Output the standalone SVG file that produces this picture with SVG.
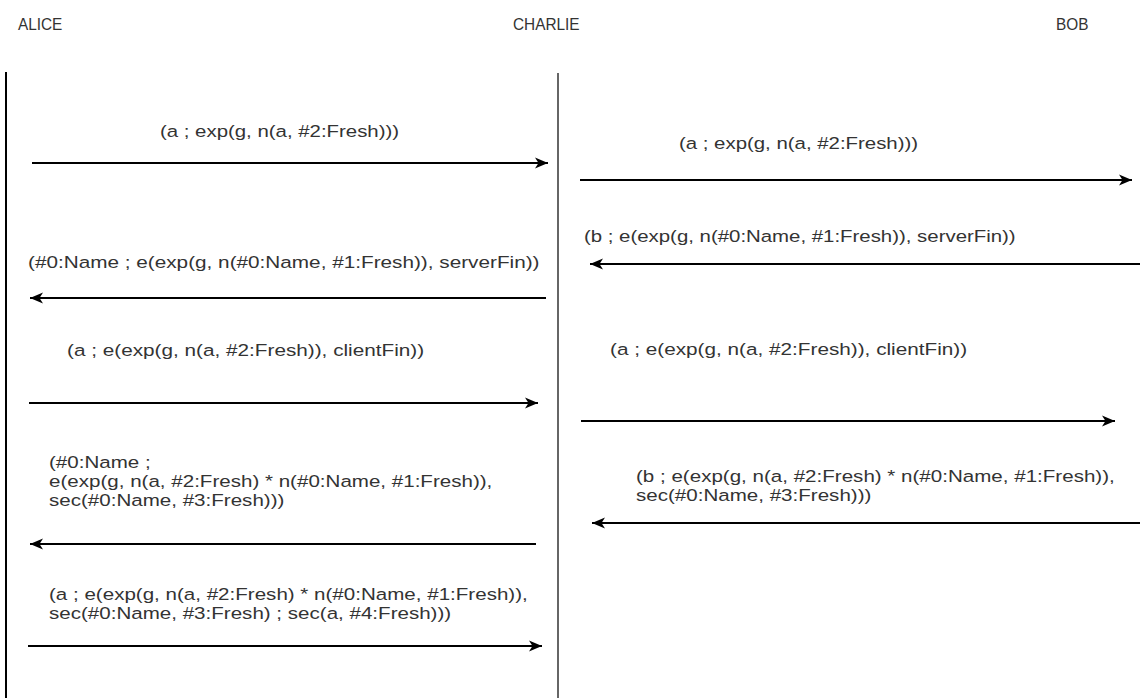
<svg xmlns="http://www.w3.org/2000/svg" width="1140" height="698" viewBox="0 0 1140 698">
  <style>
    text { font-family: "Liberation Sans", Arial, Helvetica, sans-serif; font-size: 17px; fill: #333333; }
    text.head { font-size: 16px; }
    .life-a { stroke: #000000; stroke-width: 2; }
    .life-c { stroke: #666666; stroke-width: 2; }
    .msg { stroke: #000000; stroke-width: 2; fill: none; marker-end: url(#arrow); }
  </style>
  <defs>
    <marker id="arrow" markerUnits="userSpaceOnUse" markerWidth="15" markerHeight="13" refX="13" refY="6" orient="auto">
      <path d="M0,0.5 L13,6 L0,11.5 L3.5,6 Z" fill="#000000"/>
    </marker>
  </defs>
  <rect width="1140" height="698" fill="#ffffff"/>

  <!-- participants -->
  <g id="alice">
    <text class="head" transform="translate(18,30) scale(0.96,1)">ALICE</text>
    <line class="life-a" x1="6" y1="72" x2="6" y2="698"/>
  </g>
  <g id="charlie">
    <text class="head" transform="translate(513,30) scale(0.96,1)">CHARLIE</text>
    <line class="life-c" x1="558" y1="73" x2="558" y2="698"/>
  </g>
  <g id="bob">
    <text class="head" transform="translate(1056,30) scale(0.96,1)">BOB</text>
  </g>

  <!-- message labels -->
  <g id="labels">
    <text transform="translate(160,137) scale(1.2,1)">(a ; exp(g, n(a, #2:Fresh)))</text>
    <text transform="translate(679,149) scale(1.2,1)">(a ; exp(g, n(a, #2:Fresh)))</text>
    <text transform="translate(584,242) scale(1.2,1)">(b ; e(exp(g, n(#0:Name, #1:Fresh)), serverFin))</text>
    <text transform="translate(28,268) scale(1.22,1)">(#0:Name ; e(exp(g, n(#0:Name, #1:Fresh)), serverFin))</text>
    <text transform="translate(67,356) scale(1.22,1)">(a ; e(exp(g, n(a, #2:Fresh)), clientFin))</text>
    <text transform="translate(610,355) scale(1.22,1)">(a ; e(exp(g, n(a, #2:Fresh)), clientFin))</text>
    <text transform="translate(49,468) scale(1.21,1)">(#0:Name ;</text>
    <text transform="translate(49,487) scale(1.21,1)">e(exp(g, n(a, #2:Fresh) * n(#0:Name, #1:Fresh)),</text>
    <text transform="translate(49,506) scale(1.21,1)">sec(#0:Name, #3:Fresh)))</text>
    <text transform="translate(636,482) scale(1.21,1)">(b ; e(exp(g, n(a, #2:Fresh) * n(#0:Name, #1:Fresh)),</text>
    <text transform="translate(636,501) scale(1.21,1)">sec(#0:Name, #3:Fresh)))</text>
    <text transform="translate(49,600) scale(1.21,1)">(a ; e(exp(g, n(a, #2:Fresh) * n(#0:Name, #1:Fresh)),</text>
    <text transform="translate(49,619) scale(1.21,1)">sec(#0:Name, #3:Fresh) ; sec(a, #4:Fresh)))</text>
  </g>

  <!-- message arrows -->
  <g id="connectors">
    <line class="msg" x1="32" y1="163" x2="548" y2="163"/>
    <line class="msg" x1="580" y1="180" x2="1132" y2="180"/>
    <line class="msg" x1="1140" y1="264" x2="590" y2="264"/>
    <line class="msg" x1="546" y1="298" x2="30" y2="298"/>
    <line class="msg" x1="29" y1="403" x2="538" y2="403"/>
    <line class="msg" x1="581" y1="421" x2="1115" y2="421"/>
    <line class="msg" x1="536" y1="544" x2="30" y2="544"/>
    <line class="msg" x1="1140" y1="523" x2="592" y2="523"/>
    <line class="msg" x1="28" y1="646" x2="542" y2="646"/>
  </g>
</svg>
